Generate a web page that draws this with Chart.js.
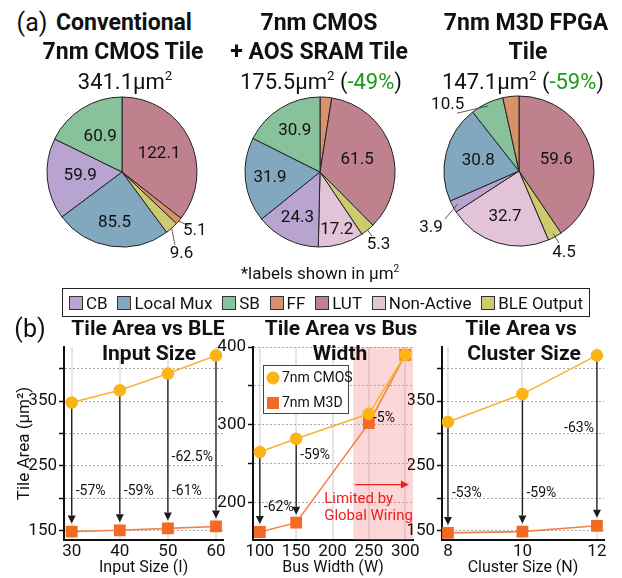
<!DOCTYPE html>
<html>
<head>
<meta charset="utf-8">
<script src="https://cdn.jsdelivr.net/npm/chart.js@4.4.0/dist/chart.umd.min.js"></script>
<style>
  body { margin: 0; background: #fff; }
  #wrap { position: relative; width: 622px; height: 578px; overflow: hidden; font-family: Roboto, "DejaVu Sans", sans-serif; color: #111; }
  canvas { position: absolute; }
  .t { position: absolute; transform: translate(-50%, -50%); white-space: nowrap; line-height: 1; }
  .h { font-weight: bold; font-size: 23px; }
  .s { font-size: 22px; }
  .h2 { font-weight: bold; font-size: 21px; }
  .g { color: #1c9a1c; }
  sup { font-size: 0.6em; vertical-align: 0.65em; line-height: 0; }
  #pieLegend { position: absolute; left: 62px; top: 288px; width: 528px; height: 29px; box-sizing: border-box;
    border: 1.5px solid #222; display: flex; align-items: center; justify-content: space-between; padding: 0 6px; font-size: 17px; }
  #pieLegend span.sw { display: inline-block; width: 12px; height: 12px; border: 1px solid #333; margin-right: 3px; vertical-align: -1px; }
</style>
</head>
<body>
<div id="wrap">
  <canvas id="pie1" width="220" height="220" style="left:12px; top:62px;"></canvas>
  <canvas id="pie2" width="220" height="220" style="left:210px; top:62px;"></canvas>
  <canvas id="pie3" width="220" height="220" style="left:409px; top:61px;"></canvas>

  <canvas id="inputChart" width="232" height="278" style="left:0px; top:300px;"></canvas>
  <canvas id="busChart" width="207" height="278" style="left:215px; top:300px;"></canvas>
  <canvas id="clusterChart" width="214" height="278" style="left:408px; top:300px;"></canvas>

  <div class="t" style="left:32px; top:22px; font-size:25px;">(a)</div>
  <div class="t h" style="left:124px; top:22px;">Conventional</div>
  <div class="t h" style="left:123px; top:51px;">7nm CMOS Tile</div>
  <div class="t s" style="left:125px; top:82px;">341.1µm<sup>2</sup></div>

  <div class="t h" style="left:319px; top:22px;">7nm CMOS</div>
  <div class="t h" style="left:319px; top:51px;">+ AOS SRAM Tile</div>
  <div class="t s" style="left:321px; top:82px;">175.5µm<sup>2</sup> (<span class="g">-49%</span>)</div>

  <div class="t h" style="left:526px; top:22px;">7nm M3D FPGA</div>
  <div class="t h" style="left:528px; top:51px;">Tile</div>
  <div class="t s" style="left:523px; top:82px;">147.1µm<sup>2</sup> (<span class="g">-59%</span>)</div>

  <div class="t" style="left:320px; top:273px; font-size:17px;">*labels shown in µm<sup>2</sup></div>
  <div id="pieLegend"></div>

  <div class="t" style="left:30px; top:328px; font-size:25px;">(b)</div>
  <div class="t h2" style="left:148px; top:328px;">Tile Area vs BLE</div>
  <div class="t h2" style="left:149px; top:353px;">Input Size</div>
  <div class="t h2" style="left:341px; top:328px;">Tile Area vs Bus</div>
  <div class="t h2" style="left:340px; top:353px;">Width</div>
  <div class="t h2" style="left:521px; top:328px;">Tile Area vs</div>
  <div class="t h2" style="left:524px; top:353px;">Cluster Size</div>
</div>

<script>
const FONT = 'Roboto, "DejaVu Sans", sans-serif';

// ---- pie data (slices run clockwise from 12 o'clock) ----
const categories = ['CB', 'Local Mux', 'SB', 'FF', 'LUT', 'Non-Active', 'BLE Output'];
const categoryColors = ['#b9a3d0', '#82a8c0', '#88c29b', '#d8926a', '#c0818f', '#e3c3d7', '#cdca6f'];

const pie1Order = ['LUT', 'FF', 'BLE Output', 'Local Mux', 'CB', 'SB'];
const pie1Values = [122.1, 5.1, 9.6, 85.5, 59.9, 60.9];
const pie2Order = ['FF', 'LUT', 'BLE Output', 'Non-Active', 'CB', 'Local Mux', 'SB'];
const pie2Values = [4.4, 61.5, 5.3, 17.2, 24.3, 31.9, 30.9];
const pie3Order = ['LUT', 'BLE Output', 'Non-Active', 'CB', 'Local Mux', 'SB', 'FF'];
const pie3Values = [59.6, 4.5, 32.7, 3.9, 30.8, 10.5, 5.1];

// label placement: number = inside at fraction of radius, object = outside with leader line, null = none
const pie1Place = [0.55, {a: 129, r: 1.25, l0: 1.0, l1: 1.14}, {a: 144, r: 1.35, l0: 1.0, l1: 1.2}, 0.68, 0.56, 0.55];
const pie2Place = [null, 0.52, {a: 141, r: 1.24, l0: 1.0, l1: 1.1}, 0.8, 0.68, 0.67, 0.64];
const pie3Place = [0.52, {a: 151, r: 1.24, l0: 0.95, l1: 1.1}, 0.64, {a: 237, r: 1.4, l0: 0.93, l1: 1.18},
                   0.56, {a: 313, r: 1.3, l0: 0.96, l1: 1.13}, null];

// ---- line chart data ----
const inputSize = [30, 40, 50, 60];
const inputCmos = [348, 367, 393, 421];
const inputM3d = [148, 150, 153, 156];
const inputPct = ['-57%', '-59%', '-61%', '-62.5%'];

const busWidth = [100, 150, 250, 300];
const busCmos = [265, 282, 314, 390];
const busM3d = [162, 174, 302, 390];
const busPct = ['-62%', '-59%', '-5%', null];

const clusterSize = [8, 10, 12];
const clusterCmos = [318, 361, 421];
const clusterM3d = [146, 148, 157];
const clusterPct = ['-53%', '-59%', '-63%'];

const cmosColor = '#fbb417';
const cmosLine = '#f7b331';
const m3dColor = '#f26a24';
const m3dLine = '#f3824a';

Chart.defaults.font.family = FONT;
Chart.defaults.color = '#111';

// legend under the pies
const legendEl = document.getElementById('pieLegend');
categories.forEach((c, i) => {
  const item = document.createElement('span');
  item.innerHTML = '<span class="sw" style="background:' + categoryColors[i] + '"></span>' + c;
  legendEl.appendChild(item);
});

function colorOf(name) {
  return categoryColors[categories.indexOf(name)];
}

function pieLabels(place) {
  return {
    id: 'pieLabels',
    afterDatasetsDraw(chart) {
      const ctx = chart.ctx;
      const arcs = chart.getDatasetMeta(0).data;
      const values = chart.data.datasets[0].data;
      ctx.save();
      ctx.font = '17px ' + FONT;
      ctx.fillStyle = '#111';
      ctx.strokeStyle = '#333';
      ctx.lineWidth = 0.8;
      ctx.textAlign = 'center';
      ctx.textBaseline = 'middle';
      arcs.forEach((arc, i) => {
        const p = place[i];
        if (p == null) return;
        const r = arc.outerRadius;
        const mid = (arc.startAngle + arc.endAngle) / 2;
        const at = (ang, f) => [arc.x + Math.cos(ang) * r * f, arc.y + Math.sin(ang) * r * f];
        const text = values[i].toFixed(1);
        if (typeof p === 'number') {
          const [tx, ty] = at(mid, p);
          ctx.fillText(text, tx, ty);
        } else {
          const a = (p.a - 90) * Math.PI / 180;
          const [x0, y0] = at(mid, p.l0);
          const [x1, y1] = at(a, p.l1);
          ctx.beginPath();
          ctx.moveTo(x0, y0);
          ctx.lineTo(x1, y1);
          ctx.stroke();
          const [tx, ty] = at(a, p.r);
          ctx.fillText(text, tx, ty);
        }
      });
      ctx.restore();
    }
  };
}

function makePie(id, order, values, place) {
  return new Chart(document.getElementById(id), {
    type: 'pie',
    data: {
      labels: order,
      datasets: [{
        data: values,
        backgroundColor: order.map(colorOf),
        borderColor: '#222',
        borderWidth: 1
      }]
    },
    options: {
      responsive: false,
      animation: false,
      layout: { padding: 34.5 },
      plugins: { legend: { display: false }, tooltip: { enabled: false } }
    },
    plugins: [pieLabels(place)]
  });
}

makePie('pie1', pie1Order, pie1Values, pie1Place);
makePie('pie2', pie2Order, pie2Values, pie2Place);
makePie('pie3', pie3Order, pie3Values, pie3Place);

function drawArrow(ctx, x0, y0, x1, y1, color) {
  const ang = Math.atan2(y1 - y0, x1 - x0);
  const len = 8, half = 4;
  ctx.strokeStyle = color;
  ctx.fillStyle = color;
  ctx.lineWidth = 1.3;
  ctx.beginPath();
  ctx.moveTo(x0, y0);
  ctx.lineTo(x1 - Math.cos(ang) * len, y1 - Math.sin(ang) * len);
  ctx.stroke();
  ctx.beginPath();
  ctx.moveTo(x1, y1);
  ctx.lineTo(x1 - Math.cos(ang) * len - Math.sin(ang) * half, y1 - Math.sin(ang) * len + Math.cos(ang) * half);
  ctx.lineTo(x1 - Math.cos(ang) * len + Math.sin(ang) * half, y1 - Math.sin(ang) * len - Math.cos(ang) * half);
  ctx.closePath();
  ctx.fill();
}

// regular ticks every `step` inside the scale range
function stepTicks(step) {
  return s => {
    const ticks = [];
    for (let v = Math.ceil(s.min / step) * step; v <= s.max + 1e-9; v += step) ticks.push({ value: v });
    s.ticks = ticks;
  };
}

// arrows, percent labels and the extras of the bus width panel
function annotations(spec) {
  return {
    id: 'annot',
    beforeDatasetsDraw(chart) {
      const { ctx, chartArea: ca, scales: { x, y } } = chart;
      ctx.save();
      if (spec.shadeFrom != null) {
        const sx = x.getPixelForValue(spec.shadeFrom);
        ctx.fillStyle = 'rgba(240, 110, 110, 0.28)';
        ctx.fillRect(sx, ca.top, ca.right - sx, ca.bottom - ca.top);
      }
      spec.x.forEach((xv, i) => {
        if (!spec.arrows[i]) return;
        const px = x.getPixelForValue(xv);
        drawArrow(ctx, px, y.getPixelForValue(spec.cmos[i]), px, y.getPixelForValue(spec.m3d[i]) - 8, '#1a1a1a');
      });
      ctx.restore();
    },
    afterDatasetsDraw(chart) {
      const { ctx, chartArea: ca, scales: { x, y } } = chart;
      ctx.save();
      ctx.font = '14px ' + FONT;
      ctx.fillStyle = '#111';
      ctx.textBaseline = 'middle';
      spec.x.forEach((xv, i) => {
        const text = spec.pct[i];
        if (!text) return;
        const px = x.getPixelForValue(xv);
        const py = y.getPixelForValue(spec.pctY[i]);
        if (spec.pctSide[i] === 'l') {
          ctx.textAlign = 'right';
          ctx.fillText(text, px - 3, py);
        } else {
          ctx.textAlign = 'left';
          ctx.fillText(text, px + spec.pctGap, py);
        }
      });

      if (spec.wiring) {
        const w = spec.wiring;
        drawArrow(ctx, x.getPixelForValue(w.arrowFrom), y.getPixelForValue(w.arrowY),
                  x.getPixelForValue(w.arrowTo), y.getPixelForValue(w.arrowY), '#f21d1d');
        ctx.fillStyle = '#f21d1d';
        ctx.font = '15px ' + FONT;
        ctx.textAlign = 'left';
        w.lines.forEach((line, k) => {
          ctx.fillText(line, x.getPixelForValue(w.textX), y.getPixelForValue(w.textY[k]));
        });
      }

      if (spec.legend) {
        const bx = ca.left + 10, by = ca.top + 18, bw = 85, bh = 48;
        ctx.fillStyle = '#fff';
        ctx.fillRect(bx, by, bw, bh);
        ctx.strokeStyle = '#444';
        ctx.lineWidth = 1;
        ctx.strokeRect(bx + 0.5, by + 0.5, bw, bh);
        ctx.fillStyle = cmosColor;
        ctx.beginPath();
        ctx.arc(bx + 10, by + 13, 6.5, 0, Math.PI * 2);
        ctx.fill();
        ctx.fillStyle = m3dColor;
        ctx.fillRect(bx + 4, by + 32, 12, 12);
        ctx.fillStyle = '#111';
        ctx.font = '14px ' + FONT;
        ctx.textAlign = 'left';
        ctx.fillText(chart.data.datasets[0].label, bx + 19, by + 13);
        ctx.fillText(chart.data.datasets[1].label, bx + 19, by + 38);
      }
      ctx.restore();
    }
  };
}

function makeLine(id, spec) {
  return new Chart(document.getElementById(id), {
    type: 'line',
    data: {
      datasets: [
        {
          label: '7nm CMOS',
          data: spec.x.map((v, i) => ({ x: v, y: spec.cmos[i] })),
          borderColor: cmosLine,
          backgroundColor: cmosColor,
          pointBorderColor: cmosColor,
          pointStyle: 'circle',
          pointRadius: 5.5,
          borderWidth: 1.6
        },
        {
          label: '7nm M3D',
          data: spec.x.map((v, i) => ({ x: v, y: spec.m3d[i] })),
          borderColor: m3dLine,
          backgroundColor: m3dColor,
          pointBorderColor: m3dColor,
          pointStyle: 'rect',
          pointRadius: 7.2,
          borderWidth: 1.6
        }
      ]
    },
    options: {
      responsive: false,
      animation: false,
      layout: { padding: { top: 47, right: spec.padRight, left: 0, bottom: 0 } },
      plugins: { legend: { display: false }, tooltip: { enabled: false } },
      scales: {
        x: {
          type: 'linear',
          min: spec.xMin,
          max: spec.xMax,
          afterBuildTicks: stepTicks(spec.xStep),
          afterFit: s => { s.height = 38; },
          ticks: { autoSkip: false, maxRotation: 0, padding: 2, font: { size: 17 }, color: '#111' },
          grid: { color: '#e6e6e6', lineWidth: 2, drawTicks: false },
          border: { color: '#111', width: 2 },
          title: { display: true, text: spec.xTitle, font: { size: 16 }, color: '#111', padding: { top: 0, bottom: 0 } }
        },
        y: {
          min: spec.yMin,
          max: spec.yMax,
          afterBuildTicks: stepTicks(50),
          afterFit: s => { s.width = spec.yWidth; },
          ticks: {
            autoSkip: false,
            padding: 2,
            font: { size: 17 },
            color: '#111',
            callback: v => (Math.round(v - spec.yLabelFrom) % 100 === 0 ? String(Math.round(v)) : '')
          },
          grid: { color: '#a8a8a8', lineWidth: 1, tickColor: '#111', tickLength: 5, tickWidth: 1.5 },
          border: { color: '#111', width: 2, dash: [2, 2] },
          title: { display: !!spec.yTitle, text: spec.yTitle || '', font: { size: 17 }, color: '#111', padding: { top: 15, bottom: 0 } }
        }
      }
    },
    plugins: [annotations(spec)]
  });
}

makeLine('inputChart', {
  x: inputSize, cmos: inputCmos, m3d: inputM3d,
  arrows: [true, true, true, true],
  pct: inputPct, pctY: [210, 210, 210, 263], pctSide: ['r', 'r', 'r', 'l'], pctGap: 4,
  xMin: 28.4, xMax: 61.5, xStep: 10, xTitle: 'Input Size (I)',
  yMin: 135, yMax: 434, yLabelFrom: 150, yWidth: 64, yTitle: 'Tile Area (µm²)',
  padRight: 5
});

makeLine('busChart', {
  x: busWidth, cmos: busCmos, m3d: busM3d,
  arrows: [true, true, false, false],
  pct: busPct, pctY: [193, 260, 308], pctSide: ['r', 'r', 'r'], pctGap: 4,
  xMin: 90.6, xMax: 310.7, xStep: 50, xTitle: 'Bus Width (W)',
  yMin: 151.7, yMax: 400, yLabelFrom: 200, yWidth: 38,
  padRight: 5,
  shadeFrom: 228.5,
  wiring: { arrowFrom: 231, arrowTo: 305, arrowY: 223, textX: 188.5, textY: [204, 182], lines: ['Limited by', 'Global Wiring'] },
  legend: true
});

makeLine('clusterChart', {
  x: clusterSize, cmos: clusterCmos, m3d: clusterM3d,
  arrows: [true, true, true],
  pct: clusterPct, pctY: [207, 207, 307], pctSide: ['r', 'r', 'l'], pctGap: 4,
  xMin: 7.84, xMax: 12.19, xStep: 2, xTitle: 'Cluster Size (N)',
  yMin: 135, yMax: 434, yLabelFrom: 150, yWidth: 34,
  padRight: 18
});
</script>
</body>
</html>
